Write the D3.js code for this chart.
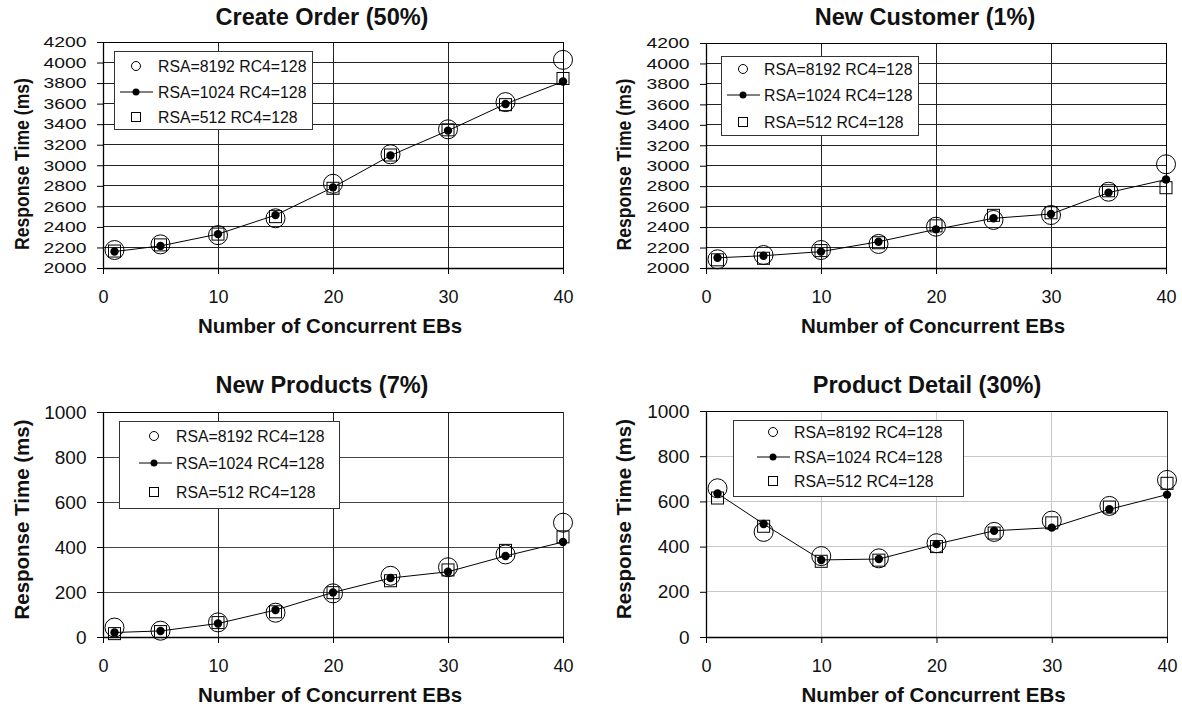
<!DOCTYPE html>
<html><head><meta charset="utf-8">
<script src="https://cdn.jsdelivr.net/npm/d3@7"></script>
<style>body{margin:0;background:#fff}svg{display:block;font-family:"Liberation Sans",Arial,Helvetica,sans-serif}</style>
</head><body><svg id="c" width="1182" height="710"></svg>
<script>
// ---- data ----
const ebs = [1,5,10,15,20,25,30,35,40];
const seriesNames = ["RSA=8192 RC4=128","RSA=1024 RC4=128","RSA=512 RC4=128"];
const xTicks = [0,10,20,30,40];
const yTicksHigh = [2000,2200,2400,2600,2800,3000,3200,3400,3600,3800,4000,4200];
const yTicksLow = [0,200,400,600,800,1000];

const createOrder8192 = [2175,2230,2320,2484,2820,3107,3350,3615,4026];
const createOrder1024 = [2160,2215,2330,2515,2785,3095,3337,3597,3815];
const createOrder512  = [2165,2225,2330,2500,2776,3100,3345,3590,3845];

const newCustomer8192 = [2085,2127,2176,2235,2404,2470,2518,2746,3014];
const newCustomer1024 = [2100,2120,2160,2257,2378,2486,2528,2737,2865];
const newCustomer512  = [2080,2095,2170,2247,2412,2515,2540,2755,2785];

const newProducts8192 = [42,28,65,108,194,272,310,367,508];
const newProducts1024 = [20,27,60,120,198,262,290,360,422];
const newProducts512  = [15,24,64,112,197,250,298,385,445];

const productDetail8192 = [658,465,358,348,415,465,515,580,695];
const productDetail1024 = [635,500,341,345,411,470,484,565,630];
const productDetail512  = [615,490,335,340,400,460,505,575,680];

// ---- layout ----
const panels = [
  {title:"Create Order (50%)", s:[createOrder8192,createOrder1024,createOrder512], dom:[2000,4200], ticks:yTicksHigh,
   x0:103,x1:563,yt:42,yb:268, tx:322, ty:25, ylx:22, squash:true, hgrid:"#222", vgrid:"#222",
   leg:{x:114,y:51,w:198,h:78,mx:136,rows:[66,92,117],l0:120,l1:153,tx:158}},
  {title:"New Customer (1%)", s:[newCustomer8192,newCustomer1024,newCustomer512], dom:[2000,4200], ticks:yTicksHigh,
   x0:706,x1:1166,yt:43,yb:268, tx:925, ty:25, ylx:624, squash:true, hgrid:"#222", vgrid:"#222",
   leg:{x:721,y:56,w:197,h:79,mx:743,rows:[69,95,122],l0:727,l1:760,tx:764}},
  {title:"New Products (7%)", s:[newProducts8192,newProducts1024,newProducts512], dom:[0,1000], ticks:yTicksLow,
   x0:103,x1:563,yt:412,yb:637, tx:322, ty:393, ylx:22, squash:false, hgrid:"#444", vgrid:"#222",
   leg:{x:119,y:421,w:220,h:87,mx:154,rows:[436,463,492],l0:139,l1:172,tx:176}},
  {title:"Product Detail (30%)", s:[productDetail8192,productDetail1024,productDetail512], dom:[0,1000], ticks:yTicksLow,
   x0:706,x1:1167,yt:411,yb:637, tx:927, ty:393, ylx:624, squash:false, hgrid:"#c8c8c8", vgrid:"#c8c8c8",
   leg:{x:733,y:420,w:230,h:76,mx:773,rows:[432,457,481],l0:757,l1:790,tx:794}}
];

const svg = d3.select("#c");

function drawPanel(p){
  const g = svg.append("g");
  const x = d3.scaleLinear().domain([0,40]).range([p.x0,p.x1]);
  const y = d3.scaleLinear().domain(p.dom).range([p.yb,p.yt]);

  // grid
  g.selectAll(".hg").data(p.ticks.slice(1,-1)).join("line")
    .attr("x1",p.x0).attr("x2",p.x1).attr("y1",d=>y(d)).attr("y2",d=>y(d))
    .attr("stroke",p.hgrid).attr("stroke-width",1).attr("shape-rendering","crispEdges");
  g.selectAll(".vg").data(xTicks.slice(1,-1)).join("line")
    .attr("x1",d=>x(d)).attr("x2",d=>x(d)).attr("y1",p.yt).attr("y2",p.yb)
    .attr("stroke",p.vgrid).attr("stroke-width",1).attr("shape-rendering","crispEdges");
  // frame
  g.append("line").attr("x1",p.x0).attr("x2",p.x1).attr("y1",p.yt).attr("y2",p.yt).attr("stroke","#000").attr("shape-rendering","crispEdges");
  g.append("line").attr("x1",p.x1).attr("x2",p.x1).attr("y1",p.yt).attr("y2",p.yb).attr("stroke",p.squash?"#000":"#333").attr("shape-rendering","crispEdges");

  // axes
  const ya = g.append("g").attr("transform",`translate(${p.x0},0)`)
    .call(d3.axisLeft(y).tickValues(p.ticks).tickSize(6).tickSizeOuter(0).tickPadding(10.5).tickFormat(d3.format("d")));
  const xa = g.append("g").attr("transform",`translate(0,${p.yb})`)
    .call(d3.axisBottom(x).tickValues(xTicks).tickSize(6).tickSizeOuter(0).tickPadding(p.squash?16:16.5).tickFormat(d3.format("d")));
  [ya,xa].forEach(a=>{
    a.select(".domain").attr("stroke","#000").attr("stroke-width",1.3);
    a.selectAll(".tick line").attr("stroke","#000");
    a.selectAll("text").attr("fill","#111").attr("font-family",null);
  });
  xa.selectAll("text").attr("font-size",18);
  if(p.squash){
    ya.selectAll("text").attr("font-size",15).attr("textLength",function(){return this.textContent.length*10.75;}).attr("lengthAdjust","spacingAndGlyphs");
  } else {
    ya.selectAll("text").attr("font-size",19);
  }

  // title
  g.append("text").attr("x",p.tx).attr("y",p.ty).attr("text-anchor","middle")
    .attr("font-size",23.5).attr("font-weight","bold").attr("fill","#111").text(p.title);
  // axis titles
  g.append("text").attr("x",(p.x0+p.x1)/2-3).attr("y",p.yb+65).attr("text-anchor","middle")
    .attr("font-size",20.5).attr("font-weight","bold").attr("fill","#111").text("Number of Concurrent EBs");
  const ycy = (p.yt+p.yb)/2 + (p.squash?9:-5);
  const yl = g.append("text").attr("transform",`translate(${p.ylx+7},${ycy}) rotate(-90)`)
    .attr("text-anchor","middle").attr("font-size",20.5).attr("font-weight","bold").attr("fill","#111")
    .text("Response Time (ms)");
  if(p.squash) yl.attr("textLength",172).attr("lengthAdjust","spacingAndGlyphs");

  // markers
  const [s8192,s1024,s512] = p.s;
  g.selectAll(".c8").data(ebs).join("circle")
    .attr("cx",d=>x(d)).attr("cy",(d,i)=>y(s8192[i])).attr("r",9.5)
    .attr("fill","none").attr("stroke","#000").attr("stroke-width",1);
  g.selectAll(".s5").data(ebs).join("rect")
    .attr("x",d=>x(d)-6).attr("y",(d,i)=>y(s512[i])-6).attr("width",12).attr("height",12)
    .attr("fill","none").attr("stroke","#000").attr("stroke-width",1);
  g.append("path").datum(ebs)
    .attr("d",d3.line().x(d=>x(d)).y((d,i)=>y(s1024[i])))
    .attr("fill","none").attr("stroke","#000").attr("stroke-width",1);
  g.selectAll(".d1").data(ebs).join("circle")
    .attr("cx",d=>x(d)).attr("cy",(d,i)=>y(s1024[i])).attr("r",4.2).attr("fill","#000");

  // legend
  const L = p.leg;
  const lg = g.append("g");
  lg.append("rect").attr("x",L.x+0.5).attr("y",L.y+0.5).attr("width",L.w).attr("height",L.h)
    .attr("fill","#fff").attr("stroke","#333").attr("stroke-width",1);
  lg.append("circle").attr("cx",L.mx).attr("cy",L.rows[0]).attr("r",4.5).attr("fill","none").attr("stroke","#000");
  lg.append("line").attr("x1",L.l0).attr("x2",L.l1).attr("y1",L.rows[1]).attr("y2",L.rows[1]).attr("stroke","#000");
  lg.append("circle").attr("cx",L.mx).attr("cy",L.rows[1]).attr("r",3.5).attr("fill","#000");
  lg.append("rect").attr("x",L.mx-4.5).attr("y",L.rows[2]-4.5).attr("width",9).attr("height",9).attr("fill","none").attr("stroke","#000");
  seriesNames.forEach((n,i)=>{
    lg.append("text").attr("x",L.tx).attr("y",L.rows[i]+5.5).attr("font-size",15.8).attr("fill","#111").text(n);
  });
}
panels.forEach(drawPanel);
</script></body></html>
